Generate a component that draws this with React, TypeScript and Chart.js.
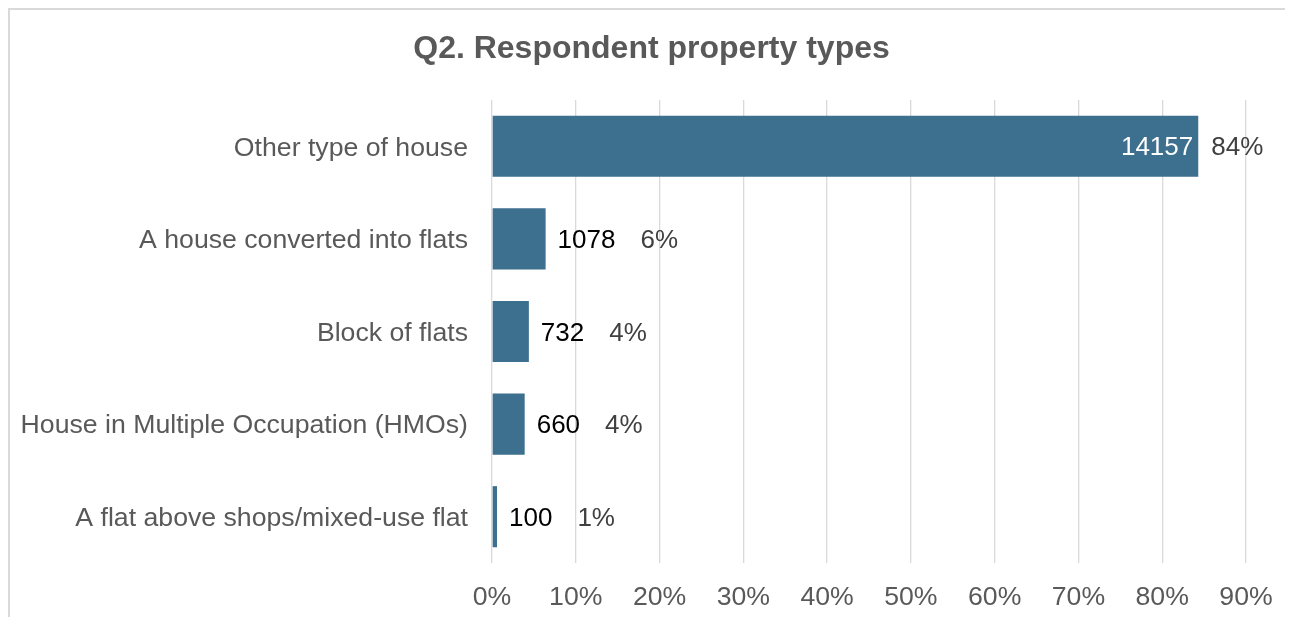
import React, { useEffect, useRef } from "react";
import { Chart, registerables } from "chart.js";

Chart.register(...registerables);

const title = "Q2. Respondent property types";
const categories = [
  "Other type of house",
  "A house converted into flats",
  "Block of flats",
  "House in Multiple Occupation (HMOs)",
  "A flat above shops/mixed-use flat",
];
const shares = [84.3, 6.4, 4.4, 3.9, 0.6];
const counts = [14157, 1078, 732, 660, 100];
const shareLabels = ["84%", "6%", "4%", "4%", "1%"];
const xMin = 0;
const xMax = 90;
const xStep = 10;

const FONT = "'Liberation Sans', Arial, sans-serif";
const BAR = "#3d6f8e";
const GRID = "#d9d9d9";
const TEXT = "#595959";
const SIZE = 26.67;

const labelPlugin = {
  id: "barLabels",
  afterDatasetsDraw(chart: any) {
    const ctx = chart.ctx;
    const meta = chart.getDatasetMeta(0);
    ctx.save();
    ctx.font = `26px ${FONT}`;
    ctx.textBaseline = "middle";
    meta.data.forEach((bar: any, i: number) => {
      const countText = String(counts[i]);
      const pctText = shareLabels[i];
      const cw = ctx.measureText(countText).width;
      const barW = bar.x - bar.base;
      const y = bar.y + 2;
      if (barW > cw + 20) {
        ctx.fillStyle = "#ffffff";
        ctx.textAlign = "right";
        ctx.fillText(countText, bar.x - 5, y);
        ctx.fillStyle = "#404040";
        ctx.textAlign = "left";
        ctx.fillText(pctText, bar.x + 13, y);
      } else {
        ctx.fillStyle = "#000000";
        ctx.textAlign = "left";
        ctx.fillText(countText, bar.x + 12, y);
        ctx.fillStyle = "#404040";
        ctx.fillText(pctText, bar.x + 12 + cw + 25, y);
      }
    });
    ctx.restore();
  },
};

export default function App() {
  const ref = useRef<HTMLCanvasElement | null>(null);

  useEffect(() => {
    if (!ref.current) return;
    const chart = new Chart(ref.current, {
      type: "bar",
      data: {
        labels: categories,
        datasets: [
          {
            data: shares,
            backgroundColor: BAR,
            borderWidth: 0,
            barPercentage: 0.66,
            categoryPercentage: 1,
          },
        ],
      },
      options: {
        indexAxis: "y",
        animation: false,
        responsive: false,
        maintainAspectRatio: false,
        layout: { padding: 0 },
        plugins: {
          legend: { display: false },
          tooltip: { enabled: false },
          title: {
            display: true,
            text: title,
            color: TEXT,
            font: { family: FONT, size: 32, weight: "bold", lineHeight: 1.2 },
            padding: { top: 19.5, bottom: 32.1 },
          },
        },
        scales: {
          x: {
            type: "linear",
            min: xMin,
            max: xMax,
            position: "bottom",
            grid: { display: true, color: GRID, lineWidth: 1.3, drawTicks: false },
            border: { display: false },
            ticks: {
              stepSize: xStep,
              color: TEXT,
              font: { family: FONT, size: SIZE },
              padding: 19,
              callback: (v: any) => `${v}%`,
            },
            afterFit: (s: any) => {
              s.height = 54;
              s.paddingRight = 47;
            },
          },
          y: {
            grid: { display: false, drawTicks: false },
            border: { display: false },
            ticks: {
              color: TEXT,
              font: { family: FONT, size: SIZE },
              padding: 24,
              labelOffset: 2,
            },
            afterFit: (s: any) => {
              s.width = 482;
            },
          },
        },
      },
      plugins: [labelPlugin],
    });
    return () => chart.destroy();
  }, []);

  return (
    <div
      style={{
        position: "relative",
        width: 1285,
        height: 609,
        boxSizing: "border-box",
        borderTop: "2px solid #d9d9d9",
        borderLeft: "2px solid #d9d9d9",
        background: "#ffffff",
        overflow: "hidden",
      }}
    >
      <canvas ref={ref} width={1283} height={607} style={{ display: "block", width: 1283, height: 607 }} />
    </div>
  );
}
